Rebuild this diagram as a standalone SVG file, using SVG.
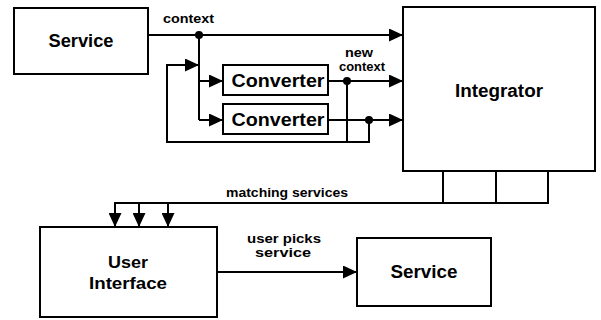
<svg xmlns="http://www.w3.org/2000/svg" width="601" height="320" viewBox="0 0 601 320">
<style>
.box{fill:#fff;stroke:#000;stroke-width:2}
.ln{fill:none;stroke:#000;stroke-width:2}
.arr{marker-end:url(#ah)}
.big{font-family:"Liberation Sans",Arial,sans-serif;font-weight:bold;font-size:18px;text-anchor:middle;fill:#000}
.sm{font-family:"Liberation Sans",Arial,sans-serif;font-weight:bold;font-size:12px;text-anchor:middle;fill:#000}
</style>
<defs>
<marker id="ah" markerUnits="userSpaceOnUse" markerWidth="15" markerHeight="13" refX="14" refY="6.5" orient="auto">
<path d="M0,0 L14,6.5 L0,13 z" fill="#000"/>
</marker>
</defs>
<rect width="601" height="320" fill="#fff"/>
<g id="connectors">
<line class="ln arr" x1="148" y1="35" x2="403" y2="35"/>
<line class="ln" x1="199" y1="35" x2="199" y2="120"/>
<line class="ln arr" x1="199" y1="81" x2="223" y2="81"/>
<line class="ln arr" x1="199" y1="120" x2="223" y2="120"/>
<line class="ln arr" x1="328" y1="81" x2="403" y2="81"/>
<line class="ln arr" x1="328" y1="120" x2="403" y2="120"/>
<line class="ln" x1="347" y1="81" x2="347" y2="142"/>
<polyline class="ln arr" points="369,120 369,142 167,142 167,65 199,65"/>
<circle cx="199" cy="35" r="4"/>
<circle cx="347" cy="81" r="4"/>
<circle cx="369" cy="120" r="4"/>
<line class="ln" x1="443" y1="171" x2="443" y2="203"/>
<line class="ln" x1="496" y1="171" x2="496" y2="203"/>
<polyline class="ln" points="548,171 548,203 114,203"/>
<line class="ln arr" x1="115" y1="203" x2="115" y2="227"/>
<line class="ln arr" x1="139" y1="203" x2="139" y2="227"/>
<line class="ln arr" x1="168" y1="203" x2="168" y2="227"/>
<line class="ln arr" x1="217" y1="272" x2="357" y2="272"/>
<text class="sm" x="188.5" y="23" textLength="51" lengthAdjust="spacingAndGlyphs">context</text>
<text class="sm" x="359" y="57" textLength="28" lengthAdjust="spacingAndGlyphs">new</text>
<text class="sm" x="362" y="71" textLength="46" lengthAdjust="spacingAndGlyphs">context</text>
<text class="sm" x="287" y="197" textLength="122" lengthAdjust="spacingAndGlyphs">matching services</text>
<text class="sm" x="284" y="243" textLength="74" lengthAdjust="spacingAndGlyphs">user picks</text>
<text class="sm" x="283" y="257" textLength="56" lengthAdjust="spacingAndGlyphs">service</text>
</g>
<g id="service1">
<rect class="box" x="14" y="8" width="134" height="66"/>
<text class="big" x="81" y="47" textLength="65" lengthAdjust="spacingAndGlyphs">Service</text>
</g>
<g id="converter1">
<rect class="box" x="223" y="65" width="105" height="30"/>
<text class="big" x="278" y="87" textLength="93" lengthAdjust="spacingAndGlyphs">Converter</text>
</g>
<g id="converter2">
<rect class="box" x="223" y="104" width="105" height="30"/>
<text class="big" x="278" y="126" textLength="93" lengthAdjust="spacingAndGlyphs">Converter</text>
</g>
<g id="integrator">
<rect class="box" x="403" y="7" width="192" height="164"/>
<text class="big" x="499" y="97" textLength="88" lengthAdjust="spacingAndGlyphs">Integrator</text>
</g>
<g id="ui">
<rect class="box" x="40" y="227" width="177" height="90"/>
<text class="big" x="128" y="268" style="font-size:17px" textLength="40" lengthAdjust="spacingAndGlyphs">User</text>
<text class="big" x="128" y="289" style="font-size:17px" textLength="78" lengthAdjust="spacingAndGlyphs">Interface</text>
</g>
<g id="service2">
<rect class="box" x="357" y="238" width="134" height="68"/>
<text class="big" x="424" y="278" textLength="67" lengthAdjust="spacingAndGlyphs">Service</text>
</g>
</svg>
